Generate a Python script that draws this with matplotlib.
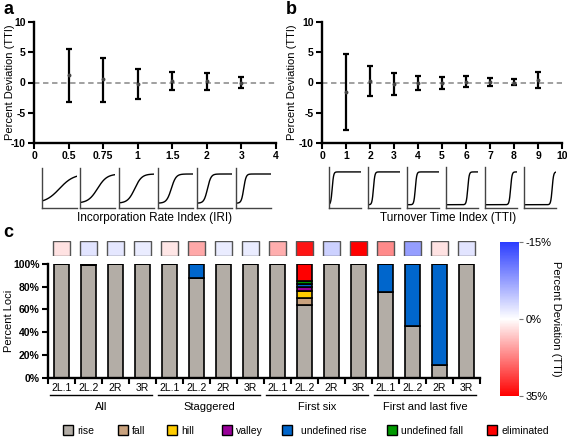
import matplotlib
matplotlib.use("Agg")
import matplotlib.pyplot as plt
import numpy as np
from matplotlib.colors import LinearSegmentedColormap, TwoSlopeNorm
from matplotlib.cm import ScalarMappable
from matplotlib.patches import Rectangle

plt.rcParams["font.family"] = ["Liberation Sans", "DejaVu Sans"]
plt.rcParams["axes.unicode_minus"] = False

# ---- panel a: incorporation rate index ----
iri_labels = ["0", "0.5", "0.75", "1", "1.5", "2", "3", "4"]
iri_mean = [1.2, 0.6, -0.2, 0.25, 0.2, 0.0]
iri_lo = [-3.3, -3.2, -2.8, -1.3, -1.2, -0.85]
iri_hi = [5.6, 4.1, 2.3, 1.8, 1.6, 0.85]
iri_values = [0.5, 0.75, 1, 1.5, 2, 3]
iri_mid = [0.5, 0.5, 0.45, 0.38, 0.3, 0.22]

# ---- panel b: turnover time index ----
tti_x = [1, 2, 3, 4, 5, 6, 7, 8, 9]
tti_mean = [-1.6, 0.3, -0.3, 0.0, -0.1, 0.05, 0.05, 0.0, 0.45]
tti_lo = [-7.8, -2.2, -2.0, -1.25, -1.0, -0.8, -0.5, -0.45, -0.95]
tti_hi = [4.65, 2.7, 1.5, 1.15, 0.95, 1.0, 0.7, 0.55, 1.75]
tti_mid = [0.1, 0.17, 0.26, 0.68, 0.8, 0.88]

# ---- panel c: locus classification ----
groups = ["All", "Staggered", "First six", "First and last five"]
loci = ["2L.1", "2L.2", "2R", "3R"]
rise = [100, 99, 100, 100, 100, 88, 100, 100, 100, 64, 100, 100, 75, 45.5, 11, 100]
fall = [0, 0, 0, 0, 0, 0, 0, 0, 0, 6.5, 0, 0, 0, 0, 0, 0]
hill = [0, 0, 0, 0, 0, 0, 0, 0, 0, 5.5, 0, 0, 0, 0, 0, 0]
valley = [0, 0, 0, 0, 0, 0, 0, 0, 0, 4, 0, 0, 0, 0, 0, 0]
undef_rise = [0, 1, 0, 0, 0, 12, 0, 0, 0, 2, 0, 0, 25, 54.5, 89, 0]
undef_fall = [0, 0, 0, 0, 0, 0, 0, 0, 0, 3, 0, 0, 0, 0, 0, 0]
eliminated = [0, 0, 0, 0, 0, 0, 0, 0, 0, 15, 0, 0, 0, 0, 0, 0]
deviation = [4, -2, -1.8, -1.5, 3.5, 12, -1.5, -1.5, 11, 32, -3.6, 36, 16, -7.5, 4, -2]

class_names = ["rise", "fall", "hill", "valley", "undefined rise", "undefined fall", "eliminated"]
class_colors = ["#b3ada6", "#c9a27e", "#ffcc00", "#990099", "#0066cc", "#009900", "#ff0000"]

W, H = 567, 437
fig = plt.figure(figsize=(W / 100, H / 100), dpi=100)


def box(x0, y0, x1, y1):
    return [x0 / W, 1 - y1 / H, (x1 - x0) / W, (y1 - y0) / H]


def style_axis(ax):
    for s in ["top", "right"]:
        ax.spines[s].set_visible(False)
    for s in ["left", "bottom"]:
        ax.spines[s].set_linewidth(1.7)
    ax.tick_params(direction="out", length=4, width=1.5, labelsize=7.5, pad=2)
    for lab in ax.get_xticklabels() + ax.get_yticklabels():
        lab.set_fontweight("bold")


def error_panel(ax, x, mean, lo, hi, xmax):
    mean = np.array(mean)
    yerr = [mean - np.array(lo), np.array(hi) - mean]
    ax.axhline(0, color="#999999", ls=(0, (3, 2)), lw=1.3, zorder=1)
    ax.errorbar(x, mean, yerr=yerr, fmt="o", ms=1.8, color="#444444", ecolor="black",
                elinewidth=1.6, capsize=2.5, capthick=1.6, zorder=3)
    ax.set_xlim(0, xmax)
    ax.set_ylim(-10, 10)
    ax.set_yticks([-10, -5, 0, 5, 10])
    ax.set_ylabel("Percent Deviation (TTI)", fontsize=8)


# panel a
axa = fig.add_axes(box(34, 22, 276, 143))
error_panel(axa, np.arange(1, 7), iri_mean, iri_lo, iri_hi, 7)
axa.set_xticks(np.arange(len(iri_labels)))
axa.set_xticklabels(iri_labels)
style_axis(axa)
axa.yaxis.set_label_coords(-0.08, 0.5)

# panel b
axb = fig.add_axes(box(322, 22, 562, 143))
error_panel(axb, tti_x, tti_mean, tti_lo, tti_hi, 10)
axb.set_xticks(np.arange(0, 11))
style_axis(axb)
axb.yaxis.set_label_coords(-0.105, 0.5)

# sigmoid insets
xs = np.linspace(0, 1, 200)
a_left = [42, 80, 119, 158, 197, 236]
for i, (v, m) in enumerate(zip(iri_values, iri_mid)):
    ax = fig.add_axes(box(a_left[i], 168, a_left[i] + 35, 208))
    ax.plot(xs, 0.12 + 0.73 / (1 + np.exp(-10 * v * (xs - m))), color="black", lw=1)
    ax.set_xlim(0, 1)
    ax.set_ylim(0, 1)
    ax.set_xticks([])
    ax.set_yticks([])
    for s in ["top", "right"]:
        ax.spines[s].set_visible(False)
    for s in ["left", "bottom"]:
        ax.spines[s].set_color("#444444")
        ax.spines[s].set_linewidth(1)

b_left = [329, 368, 407, 446, 485, 524]
for i, m in enumerate(tti_mid):
    ax = fig.add_axes(box(b_left[i], 167, b_left[i] + 32, 208))
    ax.plot(xs, 0.08 + 0.8 / (1 + np.exp(-45 * (xs - m))), color="black", lw=1)
    ax.set_xlim(0, 1)
    ax.set_ylim(0, 1)
    ax.set_xticks([])
    ax.set_yticks([])
    for s in ["top", "right"]:
        ax.spines[s].set_visible(False)
    for s in ["left", "bottom"]:
        ax.spines[s].set_color("#444444")
        ax.spines[s].set_linewidth(1)

fig.text(155 / W, 1 - 218 / H, "Incorporation Rate Index (IRI)", ha="center", va="center", fontsize=8.5)
fig.text(448 / W, 1 - 218 / H, "Turnover Time Index (TTI)", ha="center", va="center", fontsize=8.5)

# panel c
axc = fig.add_axes(box(48, 264, 480, 377.7))
xpos = np.arange(len(rise))
bottom = np.zeros(len(rise))
for vals, col in zip([rise, fall, hill, valley, undef_rise, undef_fall, eliminated], class_colors):
    vals = np.array(vals, dtype=float)
    axc.bar(xpos, vals, bottom=bottom, width=0.52, color=col, edgecolor="black", lw=1.2)
    bottom += vals
axc.set_xlim(-0.5, 15.5)
axc.set_ylim(0, 100)
axc.set_yticks(np.arange(0, 101, 20))
axc.set_yticklabels([f"{v}%" for v in range(0, 101, 20)])
axc.set_xticks(np.arange(-0.5, 16, 1))
axc.set_xticklabels([])
axc.set_xticks(xpos, minor=True)
axc.set_xticklabels(loci * 4, minor=True)
style_axis(axc)
axc.tick_params(axis="x", which="minor", length=0, pad=4, labelsize=7.5)
axc.set_ylabel("Percent Loci", fontsize=8)
axc.yaxis.set_label_coords(-0.078, 0.5)

tr = axc.get_xaxis_transform()
for g, name in enumerate(groups):
    x0 = 4 * g - 0.42
    x1 = 4 * g + 3.35
    axc.plot([x0, x1], [-0.155, -0.155], color="black", lw=1, transform=tr, clip_on=False)
    axc.text((x0 + x1) / 2, -0.26, name, transform=tr, ha="center", va="center", fontsize=8)

# deviation boxes and colour bar
cmap = LinearSegmentedColormap.from_list("dev", ["#2b3dff", "white", "#ff0000"])
norm = TwoSlopeNorm(vmin=-15, vcenter=0, vmax=35)
axh = fig.add_axes(box(48, 241, 480, 256))
axh.bar(xpos, 1, width=0.6, color=cmap(norm(np.array(deviation))), edgecolor="#555555", lw=1)
axh.set_xlim(-0.5, 15.5)
axh.set_ylim(0, 1)
axh.axis("off")

cax = fig.add_axes(box(500, 242, 519, 396))
cb = fig.colorbar(ScalarMappable(norm=norm, cmap=cmap), cax=cax)
cb.set_ticks([-15, 0, 35])
cb.set_ticklabels(["-15%", "0%", "35%"])
cb.outline.set_visible(False)
cax.invert_yaxis()
cax.tick_params(length=3, width=0.8, color="#777777", labelsize=8, pad=2)
cb.set_label("Percent Deviation (TTI)", rotation=270, fontsize=8)
cax.yaxis.set_label_coords(3.2, 0.5)

# overlay for letters and legend (pixel coordinates)
ov = fig.add_axes([0, 0, 1, 1])
ov.set_xlim(0, W)
ov.set_ylim(H, 0)
ov.axis("off")
ov.text(3, 1, "a", fontsize=13, fontweight="bold", va="top")
ov.text(286, 1, "b", fontsize=13, fontweight="bold", va="top")
ov.text(3, 224, "c", fontsize=13, fontweight="bold", va="top")

sq_x = [63, 118, 167, 222, 282, 387, 487]
txt_x = [77, 132, 181, 236, 301, 401, 501]
for name, col, sx, tx in zip(class_names, class_colors, sq_x, txt_x):
    ov.add_patch(Rectangle((sx, 425), 10, 10, facecolor=col, edgecolor="black", lw=1))
    ov.text(tx, 430.5, name, fontsize=7.5, va="center", ha="left")

fig.savefig("out.png", dpi=100)
